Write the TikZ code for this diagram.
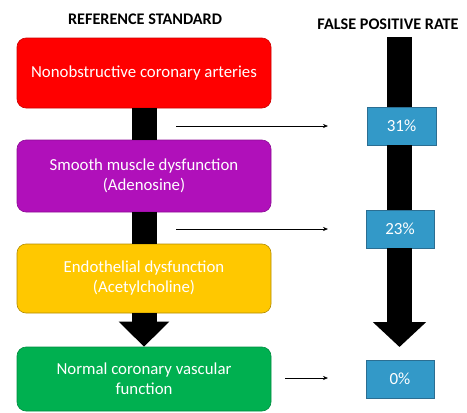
\documentclass[tikz,border=0pt]{standalone}
\usepackage{fontspec}
\setmainfont{Carlito}
\usetikzlibrary{arrows.meta}
\definecolor{boxred}{HTML}{FF0000}
\definecolor{boxpurple}{HTML}{B010BA}
\definecolor{boxyellow}{HTML}{FFC800}
\definecolor{boxgreen}{HTML}{00B050}
\definecolor{rateblue}{HTML}{3399C8}
\definecolor{rateedge}{HTML}{2B6E92}
\begin{document}
\begin{tikzpicture}[x=1pt,y=-1pt,
  title/.style={font=\bfseries\fontsize{16.2}{18}\selectfont, text=black},
  stage/.style={rounded corners=9pt, minimum width=254pt, align=center,
    text=white, font=\fontsize{16.8}{20}\selectfont, inner sep=0pt, line width=0.6pt},
  rate/.style={fill=rateblue, draw=rateedge, line width=0.6pt, text=white,
    font=\fontsize{17}{18}\selectfont, inner sep=0pt, minimum height=38pt},
  bar/.style={line width=25pt, draw=black},
  thin/.style={draw=black, line width=0.6pt, -{Stealth[length=5pt,width=4pt]}}]
\useasboundingbox (0,0) rectangle (467,413);

% column headings
\node[title] (hstd) at (145,19) {REFERENCE STANDARD};
\node[title] (hrate) at (388,24) {FALSE POSITIVE RATE};

% reference standard stages
\node[stage, fill=boxred, draw=boxred!80!black, minimum height=70pt] (red) at (144,73) {Nonobstructive coronary arteries};
\node[stage, fill=boxpurple, draw=boxpurple!80!black, minimum height=72pt] (purple) at (144,176) {Smooth muscle dysfunction\\(Adenosine)};
\node[stage, fill=boxyellow, draw=boxyellow!70!black, minimum height=69pt] (yellow) at (144,278.5) {Endothelial dysfunction\\(Acetylcholine)};
\node[stage, fill=boxgreen, draw=boxgreen!80!black, minimum height=64pt] (green) at (144,379) {Normal coronary vascular\\function};

% links between stages
\draw[bar] (red.south) -- (purple.north);
\draw[bar] (purple.south) -- (yellow.north);
\draw[bar, -{Triangle[width=49pt,length=25pt]}] (yellow.south) -- (green.north);

% false positive rates
\node[rate, minimum width=69pt] (r31) at (401.5,126) {31\%};
\node[rate, minimum width=68pt] (r23) at (400,229) {23\%};
\node[rate, minimum width=68pt] (r0) at (400,379) {0\%};

\coordinate (rtop) at (399.5,37);
\coordinate (rtip) at (399.5,347);
\draw[bar] (rtop) -- (r31.north -| rtop);
\draw[bar] (r31.south -| rtop) -- (r23.north -| rtop);
\draw[bar, -{Triangle[width=52pt,length=25pt]}] (r23.south -| rtop) -- (rtip);

% pointers from stages to rates
\coordinate (a1s) at (176,126); \coordinate (a1e) at (328,126);
\coordinate (a2s) at (176,229); \coordinate (a2e) at (328,229);
\coordinate (a3s) at (285,378); \coordinate (a3e) at (328,378);
\draw[thin] (a1s) -- (a1e);
\draw[thin] (a2s) -- (a2e);
\draw[thin] (a3s) -- (a3e);
\end{tikzpicture}
\end{document}
